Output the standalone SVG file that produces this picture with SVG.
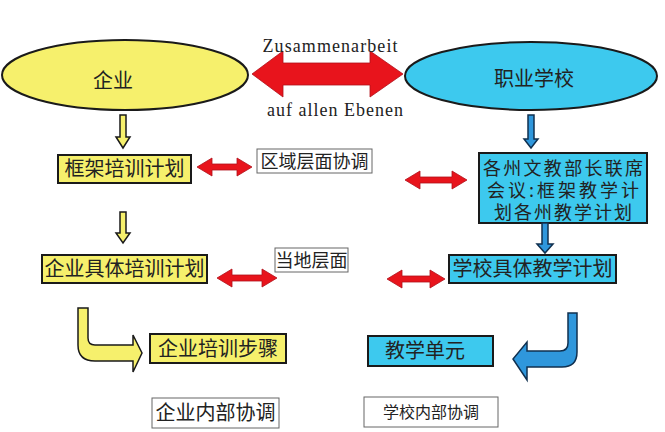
<svg xmlns="http://www.w3.org/2000/svg" width="665" height="432" viewBox="0 0 665 432">
<style>
text{font-family:"Noto Sans CJK SC","Noto Sans",sans-serif;fill:#222;text-anchor:middle}
.t20{font-size:20px}
.t19{font-size:19px}
.t18{font-size:18px}
.t16{font-size:16px}
.lat{font-family:"Liberation Serif",serif;font-size:18px;fill:#222}
.yel{fill:#F6F06C;stroke:#1a1a1a;stroke-width:2}
.blu{fill:#3DC9EE;stroke:#1a1a1a;stroke-width:2}
.wht{fill:#fff;stroke:#666;stroke-width:1}
.red{fill:#E8141C;stroke:#B0101a;stroke-width:0.8}
.ya{fill:#F6F06C;stroke:#1a1a1a;stroke-width:1.5}
.ba{fill:#2F97DC;stroke:#10304f;stroke-width:1.5}
</style>
<rect width="665" height="432" fill="#fff"/>
<g id="node-qiye">
<ellipse cx="125" cy="75" rx="123" ry="35" class="yel" stroke-width="2.5"/>
<text x="113" y="88" class="t20">企业</text>
</g>
<g id="node-zhiyexuexiao">
<ellipse cx="531" cy="76" rx="126" ry="34" class="blu" stroke-width="2.5"/>
<text x="534" y="86" class="t20">职业学校</text>
</g>
<g id="node-kuangjia">
<rect x="58" y="155" width="133" height="28" class="yel"/>
<text x="124.5" y="176" class="t20">框架培训计划</text>
</g>
<g id="node-qiyejuti">
<rect x="42" y="255" width="165" height="28" class="yel"/>
<text x="124.5" y="276" class="t20">企业具体培训计划</text>
</g>
<g id="node-quyu">
<rect x="257" y="149" width="115" height="24" class="wht"/>
<text x="314.5" y="167.5" class="t18">区域层面协调</text>
</g>
<g id="node-dangdi">
<rect x="275" y="248" width="73" height="24" class="wht"/>
<text x="311.5" y="266.5" class="t18">当地层面</text>
</g>
<g id="node-gezhou">
<rect x="479" y="153" width="168" height="70" class="blu"/>
<text x="563" y="175" class="t18" textLength="160">各州文教部长联席</text>
<text x="563" y="197" class="t18" textLength="152">会议:框架教学计</text>
<text x="563" y="219" class="t18" textLength="138">划各州教学计划</text>
</g>
<g id="node-xuexiaojuti">
<rect x="449" y="255" width="167" height="28" class="blu"/>
<text x="532.5" y="276" class="t20">学校具体教学计划</text>
</g>
<g id="node-peixunbuzhou">
<rect x="150" y="334" width="136" height="29" class="yel"/>
<text x="218" y="355.5" class="t20">企业培训步骤</text>
</g>
<g id="node-qiyeneibu">
<rect x="152" y="398" width="127" height="30" class="wht"/>
<text x="215.5" y="420" class="t20">企业内部协调</text>
</g>
<g id="node-jiaoxuedanyuan">
<rect x="368" y="336" width="125" height="30" class="blu"/>
<text x="425" y="358" class="t20">教学单元</text>
</g>
<g id="node-xuexiaoneibu">
<rect x="364" y="397" width="134" height="30" class="wht"/>
<text x="431" y="417.5" class="t16">学校内部协调</text>
</g>
<g id="connectors">
<polygon class="red" points="252,74 283,51 283,63 370,63 370,51 403,74 370,97 370,85 283,85 283,97"/>
<text x="330" y="52" class="lat" textLength="135">Zusammenarbeit</text>
<text x="335" y="116" class="lat" textLength="136">auf allen Ebenen</text>
<polygon class="red" points="197,167 212,158 212,164 237,164 237,158 252,167 237,176 237,170 212,170 212,176"/>
<polygon class="red" points="217,278 232,269 232,275 262,275 262,269 277,278 262,287 262,281 232,281 232,287"/>
<polygon class="red" points="405,180 420,171 420,177 452,177 452,171 467,180 452,189 452,183 420,183 420,189"/>
<polygon class="red" points="387,279 402,270 402,276 430,276 430,270 445,279 430,288 430,282 402,282 402,288"/>
<polygon class="ya" points="120,115 126,115 126,137 130,137 123,148 116,137 120,137"/>
<polygon class="ya" points="120,212 126,212 126,233 130,233 123,243 116,233 120,233"/>
<polygon class="ba" points="528,115 534,115 534,139 538,139 531,148 524,139 528,139"/>
<polygon class="ba" points="542,223 548,223 548,244 553,244 545,253 537,244 542,244"/>
<path class="ya" stroke-width="2" d="M78,308 L88,308 L88,338 Q88,345 95,345 L133,345 L133,335 L142,353 L133,372 L133,361 L95,361 Q78,361 78,345 Z"/>
<path class="ba" stroke-width="2" d="M568,313 L577,313 L577,352 Q577,367 562,367 L527,367 L527,380 L513,359 L527,342 L527,351 L560,351 Q568,351 568,343 Z"/>
</g>
</svg>
